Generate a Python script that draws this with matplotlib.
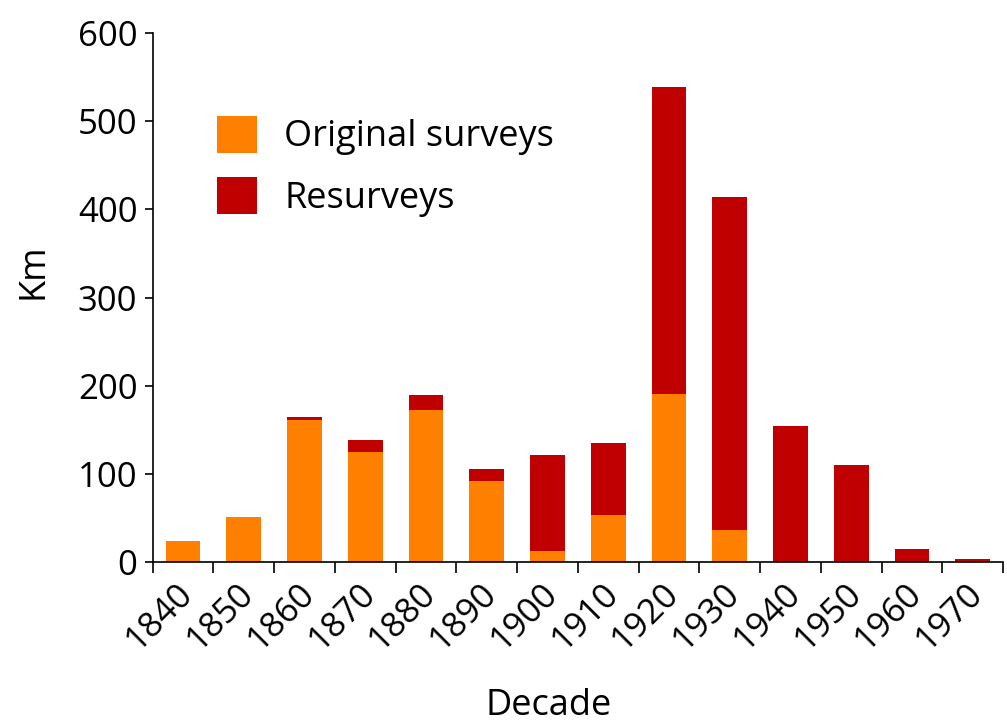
import matplotlib
matplotlib.use("Agg")
import matplotlib.pyplot as plt
import matplotlib.transforms as mtransforms
import numpy as np

# data (km per decade)
decades = ["1840", "1850", "1860", "1870", "1880", "1890", "1900",
           "1910", "1920", "1930", "1940", "1950", "1960", "1970"]
original = [24, 51, 161, 125, 172, 92, 13, 53, 191, 36, 0, 0, 0, 0]
resurveys = [0, 0, 4, 13, 17, 14, 108, 82, 348, 378, 154, 110, 15, 3.5]

orange = "#FF8000"
red = "#C00000"

plt.rcParams["font.family"] = ["Open Sans", "DejaVu Sans"]

fig = plt.figure(figsize=(10.07, 7.26), dpi=100)
ax = fig.add_axes([0.1516, 0.2259, 0.8445, 0.7286])

x = np.arange(len(decades))
ax.bar(x, original, width=0.57, color=orange, label="Original surveys")
ax.bar(x, resurveys, width=0.57, bottom=original, color=red, label="Resurveys")

ax.set_xlim(-0.5, len(decades) - 0.5)
ax.set_ylim(0, 600)
ax.set_yticks(np.arange(0, 601, 100))

# ticks sit between the categories, labels at the centres
ax.set_xticks(np.arange(-0.5, len(decades), 1.0))
ax.set_xticklabels([])
ax.set_xticks(x, minor=True)
ax.set_xticklabels(decades, minor=True, rotation=45, ha="right", va="center",
                   rotation_mode="anchor", fontsize=25)
ax.tick_params(axis="x", which="minor", length=0, pad=19)
ax.tick_params(axis="x", which="major", length=8, width=1.2, direction="out")
offset = mtransforms.ScaledTranslation(5 / 100, 0, fig.dpi_scale_trans)
for lab in ax.get_xticklabels(minor=True):
    lab.set_transform(lab.get_transform() + offset)

ax.tick_params(axis="y", length=6, width=1.2, labelsize=25, pad=5)

for side in ["top", "right"]:
    ax.spines[side].set_visible(False)
ax.spines["left"].set_linewidth(1.2)
ax.spines["bottom"].set_linewidth(1.2)

ax.set_ylabel("Km", fontsize=26)
ax.yaxis.set_label_coords(-0.1396, 0.55)
ax.yaxis.label.set_va("center")
ax.set_xlabel("Decade", fontsize=26)
ax.xaxis.set_label_coords(0.466, -0.272)
ax.xaxis.label.set_va("center")

ax.legend(loc="upper left", bbox_to_anchor=(0.038, 0.905), frameon=False,
          fontsize=26, handlelength=1.1, handleheight=1.2,
          handletextpad=0.75, labelspacing=0.6)

fig.savefig("out.png", dpi=100)
